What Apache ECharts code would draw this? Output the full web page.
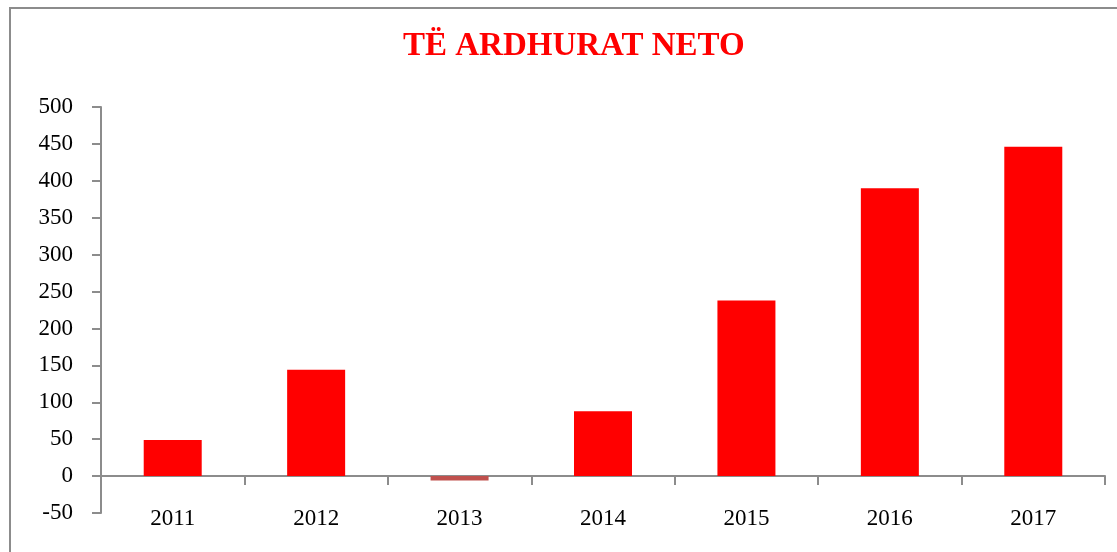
<!DOCTYPE html>
<html>
<head>
<meta charset="utf-8">
<script src="https://cdn.jsdelivr.net/npm/echarts@6/dist/echarts.min.js"></script>
<style>
  html, body { margin: 0; padding: 0; background: #fff; }
  #chart { width: 1117px; height: 552px; }
</style>
</head>
<body>
<div id="chart"></div>
<script>
const years = ['2011', '2012', '2013', '2014', '2015', '2016', '2017'];
const netIncome = [49, 144, -6, 88, 238, 390, 446];
const yTicks = { min: -50, max: 500, step: 50 };

const serif = '"Liberation Serif", "DejaVu Serif", serif';

const myChart = echarts.init(document.getElementById('chart'));
myChart.setOption({
  animation: false,
  backgroundColor: '#fff',
  title: {
    text: 'TË ARDHURAT NETO',
    left: 398,
    top: 25,
    textStyle: { color: '#ff0000', fontFamily: serif, fontSize: 33, fontWeight: 'bold' }
  },
  graphic: [{
    type: 'rect',
    shape: { x: 10, y: 8, width: 1120, height: 560 },
    style: { fill: 'none', stroke: '#8c8c8c', lineWidth: 2 },
    silent: true
  }],
  grid: { left: 101, right: 12, top: 107, bottom: 39, outerBoundsMode: 'none' },
  xAxis: {
    type: 'category',
    data: years,
    axisLine: { onZero: true, lineStyle: { color: '#8c8c8c', width: 2 } },
    axisTick: { show: true, length: 9, lineStyle: { color: '#8c8c8c', width: 2 } },
    axisLabel: { color: '#000', fontFamily: serif, fontSize: 23, margin: -6 }
  },
  yAxis: {
    type: 'value',
    min: yTicks.min,
    max: yTicks.max,
    interval: yTicks.step,
    axisLine: { show: true, lineStyle: { color: '#8c8c8c', width: 2 } },
    axisTick: { show: true, length: 9, lineStyle: { color: '#8c8c8c', width: 2 } },
    axisLabel: { color: '#000', fontFamily: serif, fontSize: 23, margin: 28 },
    splitLine: { show: false }
  },
  series: [{
    type: 'bar',
    data: netIncome.map(v => ({
      value: v,
      itemStyle: { color: v < 0 ? '#c0504d' : '#ff0000' }
    })),
    barWidth: 58
  }]
});
</script>
</body>
</html>
